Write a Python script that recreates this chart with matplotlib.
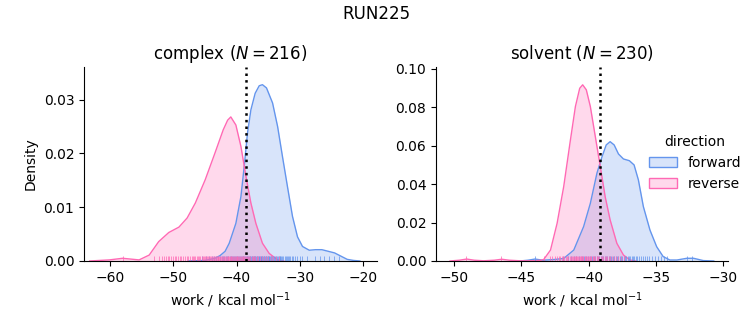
import matplotlib
matplotlib.use("Agg")
import matplotlib.pyplot as plt
from matplotlib.patches import Patch

# density curves (work in kcal/mol, density)
cx_fwd_x = [-47.6, -45.0, -43.4, -42.6, -41.8, -41.15, -40.1, -39.3, -38.78, -38.26, -37.73,
            -37.05, -36.41, -35.9, -35.26, -34.3, -33.5, -32.73, -31.94, -31.15, -30.36,
            -29.57, -28.5, -27.5, -26.5, -25.5, -24.5, -23.5, -22.5, -21.5, -20.5]
cx_fwd_y = [0.0, 0.0001, 0.0005, 0.0010, 0.0018, 0.0033, 0.0070, 0.0120, 0.0176, 0.0238, 0.0281,
            0.0312, 0.0326, 0.0328, 0.0322, 0.0294, 0.0250, 0.0194, 0.0138, 0.0083, 0.0045,
            0.0027, 0.0020, 0.0021, 0.0021, 0.0018, 0.0015, 0.0009, 0.0003, 0.0001, 0.0]
cx_rev_x = [-63.2, -60.1, -58.0, -55.4, -53.8, -52.3, -50.7, -49.1, -47.8, -46.5, -44.95,
            -43.4, -42.1, -41.4, -40.9, -40.1, -39.3, -38.5, -37.73, -36.94, -35.9, -34.83,
            -33.5, -32.5]
cx_rev_y = [0.0, 0.0002, 0.0005, 0.0002, 0.0011, 0.0036, 0.0053, 0.0063, 0.0080, 0.0108, 0.0151,
            0.0201, 0.0244, 0.0262, 0.0268, 0.0253, 0.0213, 0.0157, 0.0108, 0.0070, 0.0033, 0.0014,
            0.0002, 0.0]

sv_fwd_x = [-45.1, -44.5, -43.98, -43.4, -42.5, -41.85, -41.1, -40.37, -39.87, -39.38, -39.0,
            -38.69, -38.4, -38.1, -37.78, -37.41, -36.97, -36.62, -36.3, -35.93, -35.44, -34.94,
            -34.46, -33.96, -33.44, -32.7, -32.2, -31.47, -30.7]
sv_fwd_y = [0.0, 0.0004, 0.0010, 0.0004, 0.0008, 0.0013, 0.0057, 0.0179, 0.0300, 0.0457, 0.0543,
            0.0604, 0.0621, 0.0604, 0.0557, 0.0531, 0.0522, 0.0500, 0.0422, 0.0283, 0.0161, 0.0074,
            0.0023, 0.0005, 0.0005, 0.0014, 0.0014, 0.0002, 0.0]
sv_rev_x = [-50.3, -49.6, -49.06, -48.5, -47.8, -47.0, -46.45, -45.9, -45.1, -44.2, -43.6,
            -43.33, -42.83, -42.34, -41.85, -41.35, -40.98, -40.66, -40.44, -40.17, -39.87,
            -39.5, -39.13, -38.77, -38.4, -37.9, -37.41, -36.92, -36.5]
sv_rev_y = [0.0, 0.0004, 0.0010, 0.0004, 0.0001, 0.0004, 0.0009, 0.0004, 0.0001, 0.0001, 0.0003,
            0.0008, 0.0057, 0.0196, 0.0387, 0.0630, 0.0804, 0.0899, 0.0917, 0.0891, 0.0804,
            0.0647, 0.0491, 0.0335, 0.0214, 0.0092, 0.0031, 0.0005, 0.0]

# individual work values (rug)
cx_fwd_rug = [-45.5, -44.8, -44.3, -43.9, -43.5, -43.2, -42.9, -42.6, -42.3, -42.1, -41.9, -41.7,
              -41.5, -41.3, -41.1, -40.9, -40.75, -40.6, -40.4, -40.2, -40.05, -39.9, -39.75,
              -39.6, -39.45, -39.3, -39.15, -39.0, -38.9, -38.8, -38.65, -38.5, -38.4, -38.3,
              -38.15, -38.0, -37.9, -37.8, -37.7, -37.6, -37.5, -37.4, -37.3, -37.2, -37.1, -37.0,
              -36.9, -36.8, -36.7, -36.6, -36.5, -36.4, -36.3, -36.2, -36.1, -36.0, -35.9, -35.8,
              -35.7, -35.6, -35.5, -35.4, -35.3, -35.2, -35.1, -35.0, -34.9, -34.8, -34.7, -34.6,
              -34.5, -34.4, -34.25, -34.1, -33.95, -33.8, -33.65, -33.5, -33.35, -33.2, -33.05,
              -32.9, -32.75, -32.6, -32.4, -32.2, -32.0, -31.9, -31.7, -31.5, -31.25, -31.0,
              -30.7, -30.4, -30.0, -29.6, -28.9, -27.6, -26.8, -26.1, -25.4, -24.6, -23.8]
cx_rev_rug = [-57.9, -53.0, -52.2, -51.8, -51.5, -51.2, -50.9, -50.6, -50.3, -50.0, -49.8,
              -49.5, -49.2, -48.9, -48.7, -48.4, -48.1, -47.8, -47.6, -47.3, -47.1, -46.9,
              -46.7, -46.5, -46.3, -46.1, -45.9, -45.7, -45.5, -45.3, -45.1, -44.95, -44.8,
              -44.65, -44.5, -44.35, -44.2, -44.05, -43.9, -43.75, -43.6, -43.45, -43.3, -43.15,
              -43.0, -42.85, -42.7, -42.55, -42.4, -42.25, -42.1, -41.95, -41.8, -41.65, -41.5,
              -41.4, -41.3, -41.15, -41.0, -40.9, -40.8, -40.65, -40.5, -40.4, -40.3, -40.15,
              -40.0, -39.9, -39.8, -39.65, -39.5, -39.35, -39.2, -39.05, -38.9, -38.75, -38.6,
              -38.45, -38.3, -38.15, -38.0, -37.8, -37.6, -37.4, -37.2, -37.0, -36.8, -36.55,
              -36.3, -36.0, -35.7, -35.4, -35.0, -34.6, -34.2, -33.7, -33.3]
sv_fwd_rug = [-44.0, -41.9, -41.5, -41.3, -41.1, -40.9, -40.7, -40.5, -40.35, -40.2, -40.05,
              -39.9, -39.75, -39.6, -39.5, -39.4, -39.3, -39.2, -39.1, -39.0, -38.9, -38.8,
              -38.7, -38.6, -38.5, -38.4, -38.3, -38.2, -38.1, -38.0, -37.9, -37.8, -37.7,
              -37.6, -37.5, -37.4, -37.3, -37.2, -37.1, -37.0, -36.9, -36.8, -36.7, -36.6,
              -36.5, -36.4, -36.25, -36.1, -35.95, -35.8, -35.65, -35.5, -35.3, -35.1, -34.85,
              -34.6, -34.4, -34.2, -32.7, -32.3]
sv_rev_rug = [-49.1, -46.5, -43.3, -42.9, -42.7, -42.5, -42.35, -42.2, -42.1, -42.0, -41.9,
              -41.8, -41.7, -41.6, -41.5, -41.4, -41.3, -41.2, -41.15, -41.1, -41.0, -40.95,
              -40.9, -40.85, -40.8, -40.7, -40.65, -40.6, -40.55, -40.5, -40.45, -40.4, -40.3,
              -40.25, -40.2, -40.1, -40.05, -40.0, -39.9, -39.85, -39.8, -39.7, -39.65, -39.6,
              -39.5, -39.4, -39.35, -39.3, -39.2, -39.1, -39.0, -38.9, -38.8, -38.7, -38.6,
              -38.5, -38.4, -38.25, -38.1, -37.95, -37.8, -37.6, -37.4]

phases = ["complex", "solvent"]
n_samples = [216, 230]
estimates = [-38.5, -39.15]
fwd_color = "cornflowerblue"
rev_color = "hotpink"

fig = plt.figure(figsize=(7.53, 3.25), dpi=100)
ax1 = fig.add_axes([0.1116, 0.197, 0.389, 0.597])
ax2 = fig.add_axes([0.579, 0.197, 0.388, 0.597])

data = [
    (ax1, cx_fwd_x, cx_fwd_y, cx_rev_x, cx_rev_y, cx_fwd_rug, cx_rev_rug),
    (ax2, sv_fwd_x, sv_fwd_y, sv_rev_x, sv_rev_y, sv_fwd_rug, sv_rev_rug),
]

for i, (ax, fx, fy, rx, ry, frug, rrug) in enumerate(data):
    ax.fill_between(fx, fy, color=fwd_color, alpha=0.25, lw=0)
    ax.plot(fx, fy, color=fwd_color, lw=1)
    ax.fill_between(rx, ry, color=rev_color, alpha=0.25, lw=0)
    ax.plot(rx, ry, color=rev_color, lw=1)
    trans = ax.get_xaxis_transform()
    ax.vlines(frug, 0, 0.028, color=fwd_color, lw=0.6, alpha=0.85, transform=trans)
    ax.vlines(rrug, 0, 0.028, color=rev_color, lw=0.6, alpha=0.85, transform=trans)
    ax.axvline(estimates[i], color="black", ls=":", lw=1.8)
    ax.set_title(phases[i] + " ($N=%d$)" % n_samples[i], fontsize=12)
    ax.set_xlabel("work / kcal mol$^{-1}$")
    ax.spines["top"].set_visible(False)
    ax.spines["right"].set_visible(False)

ax1.set_xlim(-64.1, -17.8)
ax1.set_ylim(0, 0.0361)
ax1.set_xticks([-60, -50, -40, -30, -20])
ax1.set_yticks([0.0, 0.01, 0.02, 0.03])
ax1.set_yticklabels(["0.00", "0.01", "0.02", "0.03"])
ax1.set_ylabel("Density")

ax2.set_xlim(-51.34, -29.63)
ax2.set_ylim(0, 0.101)
ax2.set_xticks([-50, -45, -40, -35, -30])
ax2.set_yticks([0.0, 0.02, 0.04, 0.06, 0.08, 0.10])
ax2.set_yticklabels(["0.00", "0.02", "0.04", "0.06", "0.08", "0.10"])

handles = [Patch(facecolor=(0.392, 0.584, 0.929, 0.25), edgecolor=fwd_color),
           Patch(facecolor=(1.0, 0.412, 0.706, 0.25), edgecolor=rev_color)]
fig.legend(handles, ["forward", "reverse"], title="direction", frameon=False,
           loc="center left", bbox_to_anchor=(0.845, 0.499), fontsize=10)

fig.suptitle("RUN225", fontsize=12, y=0.985)
fig.savefig("out.png", dpi=100)
